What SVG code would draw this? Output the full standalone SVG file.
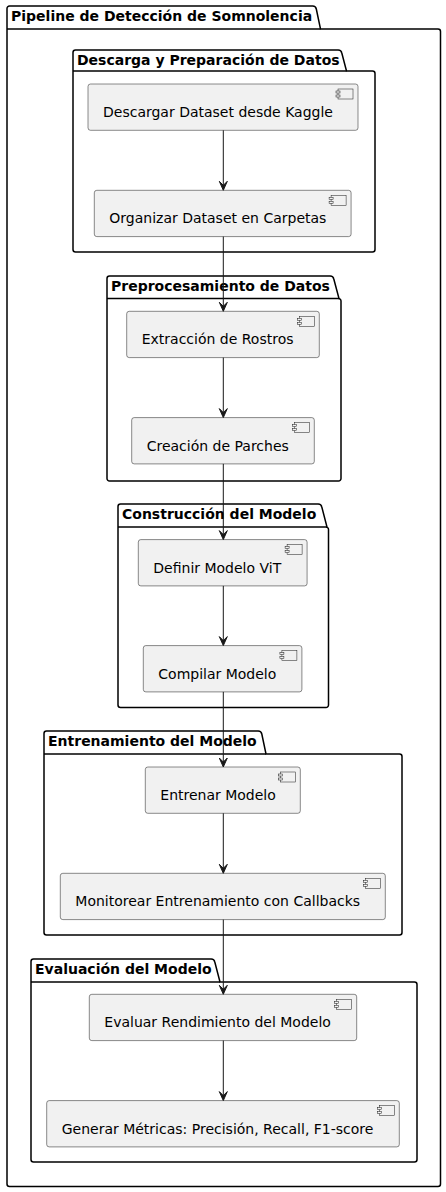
<svg xmlns="http://www.w3.org/2000/svg" width="446" height="1192" viewBox="0 0 446 1192">
<style>
.pkg{fill:none;stroke:#000000;stroke-width:1.5}
.ptitle{font-family:"DejaVu Sans",sans-serif;font-size:14px;font-weight:bold;fill:#000000}
.comp{fill:#F1F1F1;stroke:#181818;stroke-width:0.5}
.icon{fill:#F1F1F1;stroke:#181818;stroke-width:0.5}
.ctext{font-family:"DejaVu Sans",sans-serif;font-size:14px;fill:#000000}
.conn{stroke:#181818;stroke-width:1;fill:none}
.head{fill:#181818;stroke:#181818;stroke-width:1}
</style>
<defs>
<g id="cicon">
<rect class="icon" x="0" y="0" width="15" height="10"/>
<rect class="icon" x="-2" y="2" width="4" height="2"/>
<rect class="icon" x="-2" y="6" width="4" height="2"/>
</g>
</defs>

<g id="pkg-outer">
<path class="pkg" d="M7,8.5 A2.5,2.5 0 0 1 9.5,6 L312.5,6 A3.75,3.75 0 0 1 316.3,9 L320.5,29 L438,29 A2.5,2.5 0 0 1 440.5,31.5 L440.5,1184 A2.5,2.5 0 0 1 438,1186.5 L9.5,1186.5 A2.5,2.5 0 0 1 7,1184 Z"/>
<line class="pkg" x1="7" y1="29" x2="320.5" y2="29"/>
<text class="ptitle" x="11" y="20.7">Pipeline de Detección de Somnolencia</text>
</g>

<g id="pkg-descarga">
<path class="pkg" d="M73,52.5 A2.5,2.5 0 0 1 75.5,50 L338,50 A3.75,3.75 0 0 1 341.8,53 L346.5,71 L372.5,71 A2.5,2.5 0 0 1 375,73.5 L375,249.5 A2.5,2.5 0 0 1 372.5,252 L75.5,252 A2.5,2.5 0 0 1 73,249.5 Z"/>
<line class="pkg" x1="73" y1="71" x2="346.5" y2="71"/>
<text class="ptitle" x="77" y="64.7">Descarga y Preparación de Datos</text>
</g>

<g id="pkg-preproc">
<path class="pkg" d="M107,278.5 A2.5,2.5 0 0 1 109.5,276 L330,276 A3.75,3.75 0 0 1 333.8,279 L339,298.5 L338.5,298.5 A2.5,2.5 0 0 1 341,301 L341,478.5 A2.5,2.5 0 0 1 338.5,481 L109.5,481 A2.5,2.5 0 0 1 107,478.5 Z"/>
<line class="pkg" x1="107" y1="298.5" x2="339" y2="298.5"/>
<text class="ptitle" x="111" y="290.7">Preprocesamiento de Datos</text>
</g>

<g id="pkg-construccion">
<path class="pkg" d="M118,506.5 A2.5,2.5 0 0 1 120.5,504 L318,504 A3.75,3.75 0 0 1 321.8,507 L327,527 L326,527 A2.5,2.5 0 0 1 328.5,529.5 L328.5,705 A2.5,2.5 0 0 1 326,707.5 L120.5,707.5 A2.5,2.5 0 0 1 118,705 Z"/>
<line class="pkg" x1="118" y1="527" x2="327" y2="527"/>
<text class="ptitle" x="122" y="518.7">Construcción del Modelo</text>
</g>

<g id="pkg-entrenamiento">
<path class="pkg" d="M44,733.5 A2.5,2.5 0 0 1 46.5,731 L258,731 A3.75,3.75 0 0 1 261.8,734 L266,754 L399.5,754 A2.5,2.5 0 0 1 402,756.5 L402,932.5 A2.5,2.5 0 0 1 399.5,935 L46.5,935 A2.5,2.5 0 0 1 44,932.5 Z"/>
<line class="pkg" x1="44" y1="754" x2="266" y2="754"/>
<text class="ptitle" x="48" y="745.7">Entrenamiento del Modelo</text>
</g>

<g id="pkg-evaluacion">
<path class="pkg" d="M31,961.5 A2.5,2.5 0 0 1 33.5,959 L211,959 A3.75,3.75 0 0 1 214.8,962 L220,982 L414.5,982 A2.5,2.5 0 0 1 417,984.5 L417,1159.5 A2.5,2.5 0 0 1 414.5,1162 L33.5,1162 A2.5,2.5 0 0 1 31,1159.5 Z"/>
<line class="pkg" x1="31" y1="982" x2="220" y2="982"/>
<text class="ptitle" x="35" y="973.7">Evaluación del Modelo</text>
</g>

<g id="c1">
<rect class="comp" x="88" y="84" width="270" height="46.3" rx="2.5"/>
<use href="#cicon" x="338" y="89"/>
<text class="ctext" x="103" y="117">Descargar Dataset desde Kaggle</text>
</g>
<g id="c2">
<rect class="comp" x="94.3" y="190.3" width="256.8" height="46.3" rx="2.5"/>
<use href="#cicon" x="331.1" y="195.3"/>
<text class="ctext" x="109.3" y="223.3">Organizar Dataset en Carpetas</text>
</g>
<g id="c3">
<rect class="comp" x="126.7" y="311.3" width="192.6" height="46.3" rx="2.5"/>
<use href="#cicon" x="299.3" y="316.3"/>
<text class="ctext" x="141.7" y="344.3">Extracción de Rostros</text>
</g>
<g id="c4">
<rect class="comp" x="131.7" y="417.6" width="182.6" height="46.3" rx="2.5"/>
<use href="#cicon" x="294.3" y="422.6"/>
<text class="ctext" x="146.7" y="450.6">Creación de Parches</text>
</g>
<g id="c5">
<rect class="comp" x="138.3" y="539.6" width="168.8" height="46.3" rx="2.5"/>
<use href="#cicon" x="287.1" y="544.6"/>
<text class="ctext" x="153.3" y="572.6">Definir Modelo ViT</text>
</g>
<g id="c6">
<rect class="comp" x="143.3" y="645.6" width="158.6" height="46.3" rx="2.5"/>
<use href="#cicon" x="281.9" y="650.6"/>
<text class="ctext" x="158.3" y="678.6">Compilar Modelo</text>
</g>
<g id="c7">
<rect class="comp" x="145.3" y="767" width="155" height="46.3" rx="2.5"/>
<use href="#cicon" x="280.3" y="772"/>
<text class="ctext" x="160.3" y="800">Entrenar Modelo</text>
</g>
<g id="c8">
<rect class="comp" x="60.3" y="873.3" width="325" height="46.3" rx="2.5"/>
<use href="#cicon" x="365.3" y="878.3"/>
<text class="ctext" x="75.3" y="906.3">Monitorear Entrenamiento con Callbacks</text>
</g>
<g id="c9">
<rect class="comp" x="89.3" y="994.3" width="267.4" height="46.3" rx="2.5"/>
<use href="#cicon" x="336.7" y="999.3"/>
<text class="ctext" x="104.3" y="1027.3">Evaluar Rendimiento del Modelo</text>
</g>
<g id="c10">
<rect class="comp" x="46.7" y="1100.6" width="352.6" height="46.3" rx="2.5"/>
<use href="#cicon" x="379.3" y="1105.6"/>
<text class="ctext" x="61.7" y="1133.6">Generar Métricas: Precisión, Recall, F1-score</text>
</g>

<g id="connectors">
<line class="conn" x1="223.3" y1="130.3" x2="223.3" y2="186"/>
<polygon class="head" points="223.3,190.3 219.3,181.3 223.3,185.3 227.3,181.3"/>
<line class="conn" x1="223.3" y1="236.6" x2="223.3" y2="307"/>
<polygon class="head" points="223.3,311.3 219.3,302.3 223.3,306.3 227.3,302.3"/>
<line class="conn" x1="223.3" y1="357.6" x2="223.3" y2="413"/>
<polygon class="head" points="223.3,417.6 219.3,408.6 223.3,412.6 227.3,408.6"/>
<line class="conn" x1="223.3" y1="463.9" x2="223.3" y2="535"/>
<polygon class="head" points="223.3,539.6 219.3,530.6 223.3,534.6 227.3,530.6"/>
<line class="conn" x1="223.3" y1="585.9" x2="223.3" y2="641"/>
<polygon class="head" points="223.3,645.6 219.3,636.6 223.3,640.6 227.3,636.6"/>
<line class="conn" x1="223.3" y1="691.9" x2="223.3" y2="763"/>
<polygon class="head" points="223.3,767 219.3,758 223.3,762 227.3,758"/>
<line class="conn" x1="223.3" y1="813.3" x2="223.3" y2="869"/>
<polygon class="head" points="223.3,873.3 219.3,864.3 223.3,868.3 227.3,864.3"/>
<line class="conn" x1="223.3" y1="919.6" x2="223.3" y2="990"/>
<polygon class="head" points="223.3,994.3 219.3,985.3 223.3,989.3 227.3,985.3"/>
<line class="conn" x1="223.3" y1="1040.6" x2="223.3" y2="1096"/>
<polygon class="head" points="223.3,1100.6 219.3,1091.6 223.3,1095.6 227.3,1091.6"/>
</g>
</svg>
